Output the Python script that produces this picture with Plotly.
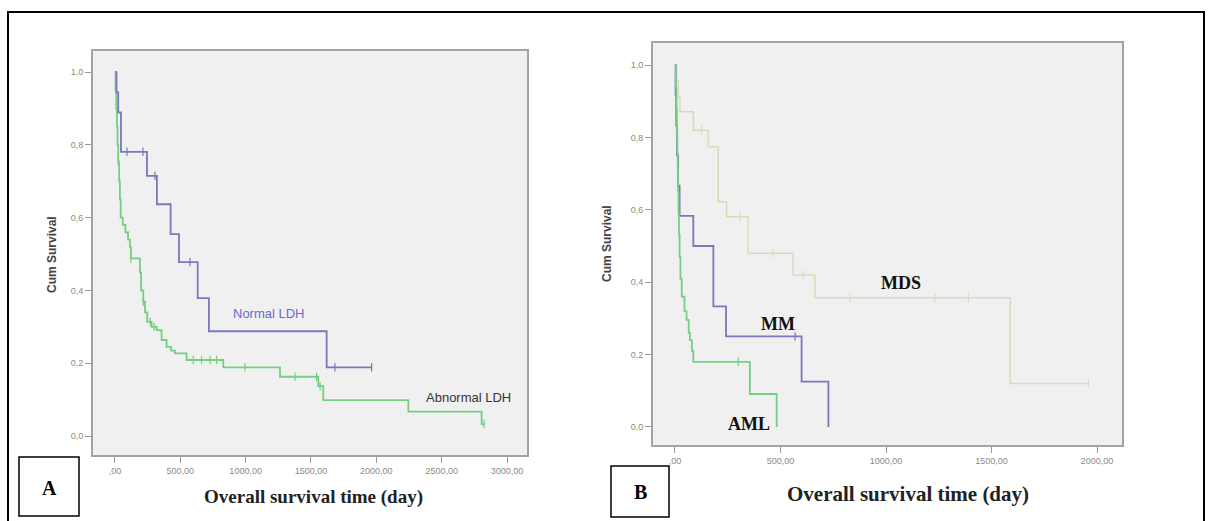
import plotly.graph_objects as go

W, H = 1211, 521

# ---------------- Panel A data (LDH) ----------------
normal_time = [0, 12, 25, 46, 245, 321, 426, 490, 633, 719, 1620, 1964]
normal_surv = [1.0, 0.944, 0.889, 0.781, 0.715, 0.637, 0.555, 0.478, 0.379, 0.288, 0.189, 0.189]
normal_cens = [92, 214, 306, 574, 1683, 1964]

abn_time = [0, 5, 10, 15, 20, 25, 32, 38, 44, 60, 80, 100, 115, 122, 191, 200, 217, 230,
            247, 280, 319, 357, 395, 430, 459, 548, 829, 1263, 1556, 1594, 2245, 2806, 2830]
abn_surv = [1.0, 0.95, 0.90, 0.85, 0.80, 0.754, 0.70, 0.65, 0.60, 0.58, 0.56, 0.54, 0.52, 0.488,
            0.45, 0.40, 0.369, 0.34, 0.314, 0.30, 0.291, 0.264, 0.245, 0.235, 0.227, 0.209,
            0.189, 0.163, 0.137, 0.099, 0.067, 0.033, 0.033]
abn_cens = [25, 122, 217, 270, 300, 599, 663, 727, 778, 995, 1377, 1543, 1570, 2824]

a_xticks = [0, 500, 1000, 1500, 2000, 2500, 3000]
a_xlabels = [",00", "500,00", "1000,00", "1500,00", "2000,00", "2500,00", "3000,00"]

# ---------------- Panel B data (diagnosis) ----------------
aml_time = [0, 4, 7, 9, 11, 13, 15, 17, 19, 22, 26, 32, 45, 55, 65, 71, 80, 87, 355, 482]
aml_surv = [1.0, 0.94, 0.88, 0.82, 0.76, 0.71, 0.65, 0.59, 0.53, 0.47, 0.41, 0.36, 0.32,
            0.296, 0.26, 0.24, 0.21, 0.18, 0.091, 0.0]
aml_cens = [300]

mm_time = [0, 3, 6, 10, 15, 22, 87, 182, 242, 600, 727]
mm_surv = [1.0, 0.917, 0.833, 0.75, 0.667, 0.583, 0.5, 0.333, 0.25, 0.125, 0.0]
mm_cens = [569]

mds_time = [0, 8, 16, 24, 87, 158, 205, 245, 347, 560, 663, 1588, 1959]
mds_surv = [1.0, 0.957, 0.914, 0.871, 0.820, 0.774, 0.622, 0.581, 0.48, 0.42, 0.357, 0.12, 0.12]
mds_cens = [126, 308, 465, 607, 829, 1232, 1390, 1959]

b_xticks = [0, 500, 1000, 1500, 2000]
b_xlabels = [",00", "500,00", "1000,00", "1500,00", "2000,00"]

yticks = [0.0, 0.2, 0.4, 0.6, 0.8, 1.0]
ylabels = ["0,0", "0,2", "0,4", "0,6", "0,8", "1,0"]

BLUE = "#7878bd"
GREEN = "#76cf80"
MDS_C = "#dcd9bb"


def surv_at(times, survs, t):
    s = survs[0]
    for ti, si in zip(times, survs):
        if ti <= t:
            s = si
    return s


fig = go.Figure()


def add_curve(times, survs, cens, color, width, xa, ya):
    fig.add_trace(go.Scatter(x=times, y=survs, mode="lines", line=dict(color=color, width=width, shape="hv"),
                             xaxis=xa, yaxis=ya, showlegend=False, hoverinfo="skip"))
    fig.add_trace(go.Scatter(x=cens, y=[surv_at(times, survs, c) for c in cens], mode="markers",
                             marker=dict(symbol="line-ns-open", size=6, color=color,
                                         line=dict(width=1.2, color=color)),
                             xaxis=xa, yaxis=ya, showlegend=False, hoverinfo="skip"))


add_curve(abn_time, abn_surv, abn_cens, GREEN, 1.8, "x", "y")
add_curve(normal_time, normal_surv, normal_cens, BLUE, 1.8, "x", "y")
add_curve(mds_time, mds_surv, mds_cens, MDS_C, 1.5, "x2", "y2")
add_curve(mm_time, mm_surv, mm_cens, BLUE, 1.8, "x2", "y2")
add_curve(aml_time, aml_surv, aml_cens, GREEN, 1.8, "x2", "y2")

axis_common = dict(showgrid=False, zeroline=False, showline=True, mirror=True, linecolor="#a3a3a3",
                   linewidth=2, ticks="outside", ticklen=6, tickcolor="#999999", tickwidth=1,
                   tickfont=dict(family="Liberation Sans", size=9, color="#8a8a8a"), automargin=False)

fig.update_layout(
    width=W, height=H, margin=dict(l=0, r=0, t=0, b=0),
    paper_bgcolor="white", plot_bgcolor="#f0f0f0",
    xaxis=dict(domain=[93 / W, 527 / W], range=[-168, 3153], tickvals=a_xticks, ticktext=a_xlabels,
               anchor="y", **axis_common),
    yaxis=dict(domain=[1 - 455 / H, 1 - 51 / H], range=[-0.052, 1.058], tickvals=yticks, ticktext=ylabels,
               anchor="x", **axis_common),
    xaxis2=dict(domain=[653 / W, 1122 / W], range=[-104, 2118], tickvals=b_xticks, ticktext=b_xlabels,
                anchor="y2", **axis_common),
    yaxis2=dict(domain=[1 - 445 / H, 1 - 43 / H], range=[-0.050, 1.061], tickvals=yticks, ticktext=ylabels,
                anchor="x2", **axis_common),
)

# outer frame and panel letter boxes
fig.add_shape(type="rect", xref="paper", yref="paper", x0=8 / W, x1=1204 / W, y0=-0.05, y1=1 - 12 / H,
              line=dict(color="black", width=2), fillcolor="rgba(0,0,0,0)", layer="below")
fig.add_shape(type="rect", xref="paper", yref="paper", x0=19 / W, x1=79 / W, y0=1 - 516 / H, y1=1 - 457 / H,
              line=dict(color="black", width=1.5), fillcolor="white")
fig.add_shape(type="rect", xref="paper", yref="paper", x0=611 / W, x1=669 / W, y0=1 - 517 / H, y1=1 - 466 / H,
              line=dict(color="black", width=1.5), fillcolor="white")


def ann_px(text, x, y, size, family, color="black", bold=True, angle=0):
    fig.add_annotation(text=("<b>%s</b>" % text) if bold else text, xref="paper", yref="paper",
                       x=x / W, y=1 - y / H, showarrow=False, textangle=angle,
                       font=dict(family=family, size=size, color=color), xanchor="center", yanchor="middle")


ann_px("A", 49, 488, 20, "Liberation Serif")
ann_px("B", 640, 492, 20, "Liberation Serif")
ann_px("Overall survival time (day)", 313, 497, 19, "Liberation Serif", "#222222")
ann_px("Overall survival time (day)", 908, 494, 21, "Liberation Serif", "#222222")
ann_px("Cum Survival", 52, 255, 12, "Liberation Sans", "#444444", angle=-90)
ann_px("Cum Survival", 607, 244, 12, "Liberation Sans", "#444444", angle=-90)


def ann_data(text, x, y, xa, ya, size, family, color, bold):
    fig.add_annotation(text=("<b>%s</b>" % text) if bold else text, xref=xa, yref=ya, x=x, y=y,
                       showarrow=False, font=dict(family=family, size=size, color=color),
                       xanchor="center", yanchor="middle")


ann_data("Normal LDH", 1178, 0.338, "x", "y", 13, "Liberation Sans", "#6a6ad0", False)
ann_data("Abnormal LDH", 2709, 0.107, "x", "y", 13, "Liberation Sans", "#333333", False)
ann_data("MDS", 1071, 0.398, "x2", "y2", 18, "Liberation Serif", "#111111", True)
ann_data("MM", 486, 0.285, "x2", "y2", 18, "Liberation Serif", "#111111", True)
ann_data("AML", 351, 0.008, "x2", "y2", 18, "Liberation Serif", "#111111", True)

fig.write_html("out.html", config={"displayModeBar": False},
               post_script="document.body.style.margin='0';document.body.style.overflow='hidden';")
